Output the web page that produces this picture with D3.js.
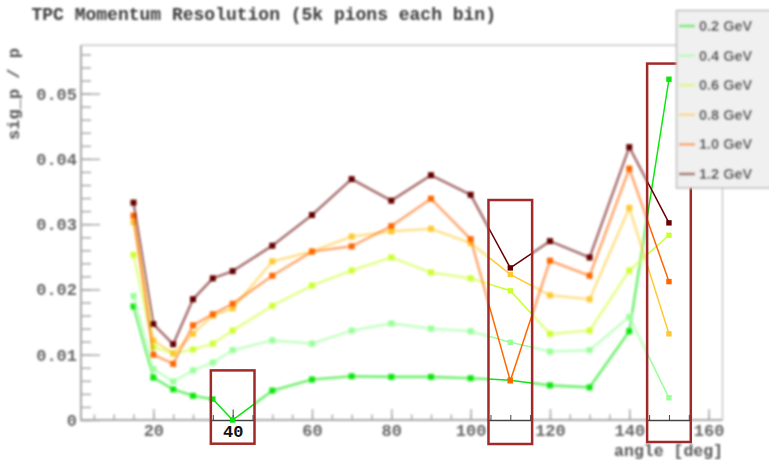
<!DOCTYPE html>
<html><head><meta charset="utf-8">
<script src="https://cdn.jsdelivr.net/npm/d3@7"></script>
<style>html,body{margin:0;padding:0;background:#fff;}svg{display:block;}</style>
</head><body>
<script>
const angles = [15,20,25,30,35,40,50,60,70,80,90,100,110,120,130,140,150];
const g02 = [0.0174,0.0065,0.0047,0.0037,0.0032,0.0000,0.0045,0.0062,0.0067,0.0066,0.0066,0.0064,0.0061,0.0053,0.0050,0.0136,0.0522];
const g04 = [0.0190,0.0078,0.0059,0.0076,0.0088,0.0107,0.0122,0.0117,0.0137,0.0148,0.0140,0.0136,0.0119,0.0105,0.0107,0.0158,0.0034];
const g06 = [0.0253,0.0112,0.0102,0.0108,0.0117,0.0137,0.0175,0.0206,0.0229,0.0249,0.0226,0.0217,0.0198,0.0132,0.0137,0.0229,0.0283];
const g08 = [0.0303,0.0122,0.0102,0.0132,0.0160,0.0171,0.0243,0.0258,0.0281,0.0289,0.0293,0.0271,0.0223,0.0191,0.0185,0.0325,0.0132];
const g10 = [0.0313,0.0100,0.0086,0.0145,0.0162,0.0178,0.0221,0.0258,0.0266,0.0297,0.0339,0.0277,0.0060,0.0244,0.0221,0.0385,0.0212];
const g12 = [0.0333,0.0147,0.0116,0.0185,0.0217,0.0228,0.0267,0.0314,0.0369,0.0336,0.0375,0.0345,0.0233,0.0274,0.0249,0.0418,0.0302];
const seriesNames = ["0.2 GeV","0.4 GeV","0.6 GeV","0.8 GeV","1.0 GeV","1.2 GeV"];
const seriesValues = [g02,g04,g06,g08,g10,g12];
const seriesColors = ["#0be60b","#99ff99","#ccff33","#ffc833","#ff6600","#660000"];
const xTicks = [20,40,60,80,100,120,140,160];
const yTicks = [0,0.01,0.02,0.03,0.04,0.05];
const editedAngles = [[35,45],[105,115],[145,155]];

const W=769,H=460;
const svg=d3.select("body").append("svg").attr("width",W).attr("height",H);
svg.append("rect").attr("width",W).attr("height",H).attr("fill","#fff");
const defs=svg.append("defs");
defs.append("filter").attr("id","blur").attr("x","-10%").attr("y","-10%").attr("width","120%").attr("height","120%")
  .append("feGaussianBlur").attr("stdDeviation",0.9);

const x=d3.scaleLinear().domain([1.76,163.5]).range([81,722.5]);
const y=d3.scaleLinear().domain([0,0.0574]).range([420,45.3]);
const series=seriesNames.map((n,i)=>({name:n,color:seriesColors[i],pts:angles.map((a,j)=>({a,v:seriesValues[i][j]}))}));
const line=d3.line().x(d=>x(d.a)).y(d=>y(d.v));
const mono="'Liberation Mono','DejaVu Sans Mono',monospace";

// ---------- base (blurred) layer ----------
const base=svg.append("g").attr("filter","url(#blur)");
base.append("text").attr("x",31.5).attr("y",20).attr("font-family",mono).attr("font-weight","bold")
  .attr("font-size",18).attr("fill","#3a3a3a").text("TPC Momentum Resolution (5k pions each bin)");
// frame
base.append("line").attr("x1",x.range()[0]).attr("x2",x.range()[1]).attr("y1",y.range()[1]).attr("y2",y.range()[1]).attr("stroke","#c8c8c8").attr("stroke-width",1.5);
base.append("line").attr("x1",x.range()[1]).attr("x2",x.range()[1]).attr("y1",y.range()[1]).attr("y2",y.range()[0]).attr("stroke","#c8c8c8").attr("stroke-width",1.5);
// y axis
const yMinor=d3.range(0,0.0574,0.002);
const ax=base.append("g");
ax.append("g").attr("transform","translate(81,0)")
  .call(d3.axisLeft(y).tickValues(yMinor).tickSize(-10).tickFormat(""))
  .call(g=>{g.select(".domain").remove();g.selectAll("line").attr("stroke","#aaa").attr("stroke-width",1.5);});
ax.append("g").attr("transform","translate(81,0)")
  .call(d3.axisLeft(y).tickValues(yTicks).tickSize(-19).tickPadding(4).tickFormat(d=>d===0?"0":d3.format(".2f")(d)))
  .call(g=>{g.select(".domain").remove();g.selectAll("line").attr("stroke","#aaa").attr("stroke-width",1.5);
    g.selectAll("text").attr("font-family",mono).attr("font-weight","bold").attr("font-size",17).attr("fill","#666").attr("x",-4);});
// x axis
const xMinor=d3.range(5,163,5);
ax.append("g").attr("transform","translate(0,420)")
  .call(d3.axisBottom(x).tickValues(xMinor).tickSize(-5.5).tickFormat(""))
  .call(g=>{g.select(".domain").remove();g.selectAll("line").attr("stroke","#aaa").attr("stroke-width",1.5);});
ax.append("g").attr("transform","translate(0,420)")
  .call(d3.axisBottom(x).tickValues(xTicks).tickSize(-11).tickPadding(6).tickFormat(d3.format("d")))
  .call(g=>{g.select(".domain").remove();g.selectAll("line").attr("stroke","#aaa").attr("stroke-width",1.5);
    g.selectAll("text").attr("font-family",mono).attr("font-weight","bold").attr("font-size",17).attr("fill","#666").attr("y",3.5);});
ax.append("line").attr("x1",81).attr("x2",81).attr("y1",45.3).attr("y2",421).attr("stroke","#a8a8a8").attr("stroke-width",2);
ax.append("line").attr("x1",80).attr("x2",722.5).attr("y1",420).attr("y2",420).attr("stroke","#a8a8a8").attr("stroke-width",2);
base.append("text").attr("transform","translate(19,94) rotate(-90)").attr("text-anchor","middle")
  .attr("font-family",mono).attr("font-weight","bold").attr("font-size",17).attr("fill","#555").text("sig_p / p");
base.append("text").attr("x",723).attr("y",455.5).attr("text-anchor","end")
  .attr("font-family",mono).attr("font-weight","bold").attr("font-size",16.5).attr("fill","#555").text("angle [deg]");
// series
series.forEach(s=>{
  const g=base.append("g");
  g.append("path").attr("d",line(s.pts)).attr("fill","none").attr("stroke",s.color).attr("stroke-width",2.6).attr("stroke-opacity",0.55);
  g.selectAll("rect").data(s.pts).join("rect").attr("x",d=>x(d.a)-3).attr("y",d=>y(d.v)-3).attr("width",6).attr("height",6).attr("fill",s.color);
});

// ---------- edited boxes (sharp) ----------
const boxes=[
  {r:editedAngles[0],top:0.0076,bottom:443.7},
  {r:editedAngles[1],top:0.0337,bottom:444},
  {r:editedAngles[2],top:0.0546,bottom:442}
];
boxes.forEach((b,i)=>{
  const x0=x(b.r[0])-2, x1=x(b.r[1])+2, y0=y(b.top), y1=b.bottom;
  const id="clip"+i;
  defs.append("clipPath").attr("id",id).append("rect").attr("x",x0).attr("y",y0).attr("width",x1-x0).attr("height",y1-y0);
  const g=svg.append("g").attr("clip-path",`url(#${id})`);
  g.append("rect").attr("x",x0).attr("y",y0).attr("width",x1-x0).attr("height",y1-y0).attr("fill","#fff");
  g.append("line").attr("x1",x0).attr("x2",x1).attr("y1",420.5).attr("y2",420.5).attr("stroke","#444").attr("stroke-width",1.3);
  g.append("g").attr("transform","translate(0,420.5)")
    .call(d3.axisBottom(x).tickValues(xMinor.filter(v=>v>=b.r[0]&&v<=b.r[1])).tickSize(-5.5).tickFormat(""))
    .call(a=>{a.select(".domain").remove();a.selectAll("line").attr("stroke","#444");});
  g.append("g").attr("transform","translate(0,420.5)")
    .call(d3.axisBottom(x).tickValues(xTicks.filter(v=>v>=b.r[0]&&v<=b.r[1])).tickSize(-11).tickPadding(6).tickFormat(d3.format("d")))
    .call(a=>{a.select(".domain").remove();a.selectAll("line").attr("stroke","#444");
      a.selectAll("text").attr("font-family",mono).attr("font-weight","bold").attr("font-size",17).attr("fill","#111").attr("y",4);});
  series.forEach(s=>{
    g.append("path").attr("d",line(s.pts)).attr("fill","none").attr("stroke",s.color).attr("stroke-width",1.5);
    g.selectAll(null).data(s.pts.filter(d=>d.a>=b.r[0]&&d.a<=b.r[1])).join("rect")
      .attr("x",d=>x(d.a)-2.7).attr("y",d=>y(d.v)-2.7).attr("width",5.4).attr("height",5.4).attr("fill",s.color);
  });
  svg.append("rect").attr("x",x0).attr("y",y0).attr("width",x1-x0).attr("height",y1-y0)
    .attr("fill","none").attr("stroke","#a02a2a").attr("stroke-width",2.5);
});

// ---------- legend (blurred) ----------
const leg=svg.append("g").attr("filter","url(#blur)");
leg.append("rect").attr("x",676.5).attr("y",10.5).attr("width",100).attr("height",177.5)
  .attr("fill","#f0f0f0").attr("stroke","#bdbdbd").attr("stroke-width",1.5);
series.forEach((s,i)=>{
  const yy=26+i*29.6;
  leg.append("line").attr("x1",679).attr("x2",695).attr("y1",yy).attr("y2",yy).attr("stroke",s.color).attr("stroke-width",2.6).attr("stroke-opacity",0.55);
  leg.append("text").attr("x",699).attr("y",yy+5).attr("font-family","'Liberation Sans',Arial,sans-serif").attr("font-weight","bold")
    .attr("font-size",14.5).attr("fill","#444").text(s.name);
});
</script>
</body></html>
